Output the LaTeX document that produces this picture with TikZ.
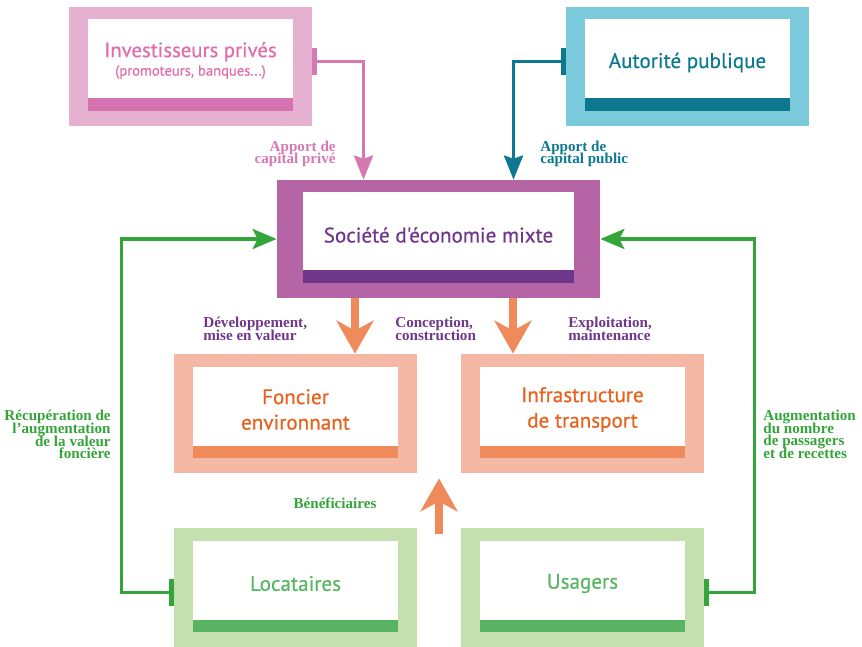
\documentclass[tikz,border=0pt]{standalone}
\usepackage{fontspec}
\setmainfont{Liberation Serif}
\newfontfamily\boxfont{PT Sans}[FakeBold=0.5]
\usetikzlibrary{arrows.meta,calc}
\definecolor{pinkframe}{RGB}{230,177,208}
\definecolor{pinkbar}{RGB}{212,115,175}
\definecolor{pinktext}{RGB}{226,108,170}
\definecolor{pinkline}{RGB}{214,120,178}
\definecolor{tealframe}{RGB}{122,202,220}
\definecolor{tealbar}{RGB}{12,121,145}
\definecolor{semframe}{RGB}{181,100,165}
\definecolor{sembar}{RGB}{110,55,137}
\definecolor{orangeframe}{RGB}{245,184,165}
\definecolor{orangebar}{RGB}{239,139,90}
\definecolor{orangetext}{RGB}{232,98,30}
\definecolor{greenframe}{RGB}{195,224,174}
\definecolor{greenbar}{RGB}{88,180,98}
\definecolor{greentext}{RGB}{90,182,100}
\definecolor{greenline}{RGB}{52,165,58}

\begin{document}
\begin{tikzpicture}[
    card/.style n args={3}{rectangle, fill=#1, minimum width=4.86cm, minimum height=2.38cm, inner sep=0pt,
        path picture={
            \fill[white] ([shift={(#3,0.3)}]path picture bounding box.south west) rectangle ([shift={(-#3,-0.25)}]path picture bounding box.north east);
            \fill[#2] ([shift={(#3,0.3)}]path picture bounding box.south west) rectangle ([shift={(-#3,0.55)}]path picture bounding box.south east);
        }},
    title/.style={font=\boxfont\fontsize{12}{14.5}\selectfont, align=center, yshift=0.08cm},
    flow/.style={font={\bfseries\fontsize{8.6}{7.2}\selectfont\lineskiplimit=-10pt}, inner sep=0pt},
    link/.style={line width=2pt, {Rectangle[length=0.1cm,width=0.54cm]}-{Stealth[length=0.48cm,width=0.38cm,inset=0.06cm]}},
    loop/.style={line width=2pt, greenline, {Rectangle[length=0.1cm,width=0.54cm]}-{Stealth[length=0.48cm,width=0.4cm,inset=0.1cm]}},
    feed/.style={line width=0.16cm, orangebar, -{Stealth[length=0.66cm,width=0.74cm,inset=0.2cm]}}
]
\useasboundingbox (0,0) rectangle (17.24,-12.94);

% Funding side
\node[card={pinkframe}{pinkbar}{0.38}, label={[title, text=pinktext, name=invtxt, yshift=0.04cm]center:{\fontsize{11.8}{11}\selectfont Investisseurs privés\\[-4pt]\fontsize{8.3}{9}\selectfont (promoteurs, banques...)}}] (inv) at (3.81,-1.33) {};
\node[card={tealframe}{tealbar}{0.38}, label={[title, text=tealbar, name=pubtxt]center:{Autorité publique}}] (pub) at (13.75,-1.33) {};

\node[card={semframe}{sembar}{0.52}, minimum width=6.46cm, minimum height=2.36cm, label={[title, text=sembar, name=semtxt]center:{Société d'économie mixte}}] (sem) at (8.77,-4.78) {};

% Projects
\node[card={orangeframe}{orangebar}{0.38}, label={[title, text=orangetext, name=fontxt]center:{Foncier\\environnant}}] (fon) at (5.91,-8.27) {};
\node[card={orangeframe}{orangebar}{0.38}, label={[title, text=orangetext, name=infratxt]center:{Infrastructure\\de transport}}] (infra) at (11.65,-8.27) {};

% Beneficiaries
\node[card={greenframe}{greenbar}{0.38}, label={[title, text=greentext, name=loctxt]center:{Locataires}}] (loc) at (5.91,-11.75) {};
\node[card={greenframe}{greenbar}{0.38}, label={[title, text=greentext, name=usatxt]center:{Usagers}}] (usa) at (11.65,-11.75) {};

\draw[link, pinkline] ([yshift=0.1cm]inv.east) -| ([xshift=-1.5cm]sem.north);
\draw[link, tealbar] ([yshift=0.1cm]pub.west) -| ([xshift=1.5cm]sem.north);
\node[flow, text=pinkline, align=right, anchor=east] (privlab) at (6.72,-3.08) {Apport de\\capital privé};
\node[flow, text=tealbar, align=left, anchor=west] (publab) at (10.8,-3.08) {Apport de\\capital public};

\draw[feed] ([xshift=-1.67cm]sem.south) -- ([xshift=-1.67cm]sem.south |- fon.north);
\draw[feed] ([xshift=1.49cm]sem.south) -- ([xshift=1.49cm]sem.south |- infra.north);
\node[flow, text=sembar, align=left, anchor=west] (devlab) at (4.06,-6.58) {Développement,\\mise en valeur};
\node[flow, text=sembar, align=left, anchor=west] (conslab) at (7.9,-6.58) {Conception,\\construction};
\node[flow, text=sembar, align=left, anchor=west] (explab) at (11.36,-6.58) {Exploitation,\\maintenance};

% Feedback loops
\draw[loop] ([yshift=-0.1cm]loc.west) -- ++(-1.04,0) |- (sem.west);
\draw[loop] ([yshift=-0.1cm]usa.east) -- ++(1.0,0) |- (sem.east);
\node[flow, text=greenline, align=right, anchor=east] (recuplab) at (2.22,-8.69) {Récupération de\\l’augmentation\\de la valeur\\foncière};
\node[flow, text=greenline, align=left, anchor=west] (augmlab) at (15.26,-8.69) {Augmentation\\du nombre\\de passagers\\et de recettes};

\coordinate (gap) at ($(fon.south east)!0.5!(infra.south west)$);
\draw[feed] ([yshift=-1.22cm]gap) -- ([yshift=-0.1cm]gap);
\node[flow, text=greenline] (benlab) at (6.7,-10.06) {Bénéficiaires};

\end{tikzpicture}
\end{document}
